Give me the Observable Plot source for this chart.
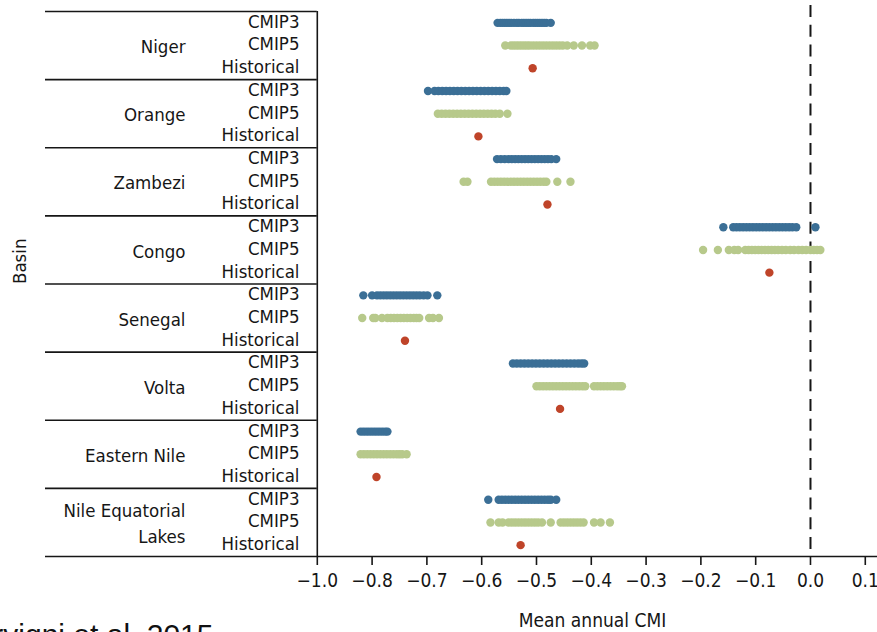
<!DOCTYPE html>
<html>
<head>
<meta charset="utf-8">
<script src="https://cdn.jsdelivr.net/npm/d3@7"></script>
<script src="https://cdn.jsdelivr.net/npm/@observablehq/plot@0.6"></script>
<style>
  html, body { margin: 0; padding: 0; overflow: hidden; background: #fff; width: 877px; height: 632px; }
  #chart { position: absolute; left: 0; top: 0; }
  #source { position: absolute; left: -45px; top: 620px; font-family: "Liberation Sans", Arial, sans-serif; font-size: 30px; line-height: 30px; color: #111; white-space: nowrap; }
</style>
</head>
<body>
<div id="chart"></div>
<div id="source">Cervigni et al. 2015</div>
<script>
// ---- categories ----
const basins = ["Niger", "Orange", "Zambezi", "Congo", "Senegal", "Volta", "Eastern Nile", "Nile Equatorial Lakes"];
const models = ["CMIP3", "CMIP5", "Historical"];

// ---- tick values & labels (as printed on the original axis) ----
const tickValues = [-0.9, -0.8, -0.7, -0.6, -0.5, -0.4, -0.3, -0.2, -0.1, 0.0, 0.1];
const tickLabels = ["−1.0", "−0.8", "−0.7", "−0.6", "−0.5", "−0.4", "−0.3", "−0.2", "−0.1", "0.0", "0.1"];

// ---- series: mean annual CMI per model run ----
const nigerCMIP3 = [-0.571,-0.566,-0.562,-0.558,-0.554,-0.550,-0.546,-0.541,-0.536,-0.532,-0.527,-0.523,-0.519,-0.515,-0.511,-0.506,-0.502,-0.498,-0.494,-0.490,-0.486,-0.482,-0.474];
const nigerCMIP5 = [-0.557,-0.547,-0.542,-0.537,-0.532,-0.527,-0.522,-0.517,-0.512,-0.506,-0.500,-0.494,-0.488,-0.482,-0.476,-0.470,-0.464,-0.458,-0.452,-0.444,-0.432,-0.417,-0.402,-0.394];
const orangeCMIP3 = [-0.698,-0.686,-0.679,-0.672,-0.665,-0.658,-0.651,-0.644,-0.637,-0.630,-0.623,-0.616,-0.609,-0.602,-0.595,-0.588,-0.581,-0.574,-0.567,-0.560,-0.555];
const orangeCMIP5 = [-0.680,-0.673,-0.666,-0.659,-0.652,-0.645,-0.638,-0.631,-0.624,-0.617,-0.610,-0.603,-0.596,-0.589,-0.582,-0.575,-0.567,-0.553];
const zambeziCMIP3 = [-0.572,-0.565,-0.558,-0.551,-0.545,-0.539,-0.533,-0.527,-0.521,-0.515,-0.509,-0.503,-0.497,-0.491,-0.485,-0.479,-0.473,-0.464];
const zambeziCMIP5 = [-0.633,-0.626,-0.583,-0.577,-0.571,-0.565,-0.559,-0.553,-0.547,-0.541,-0.535,-0.529,-0.523,-0.517,-0.511,-0.505,-0.499,-0.493,-0.487,-0.482,-0.462,-0.438];
const congoCMIP3 = [-0.159,-0.141,-0.135,-0.129,-0.123,-0.117,-0.111,-0.105,-0.099,-0.093,-0.087,-0.081,-0.075,-0.069,-0.063,-0.057,-0.051,-0.045,-0.039,-0.033,-0.026,0.009];
const congoCMIP5 = [-0.196,-0.169,-0.149,-0.139,-0.132,-0.119,-0.113,-0.107,-0.101,-0.095,-0.089,-0.083,-0.077,-0.071,-0.065,-0.059,-0.052,-0.045,-0.037,-0.030,-0.022,-0.015,-0.008,0.000,0.006,0.012,0.018];
const senegalCMIP3 = [-0.816,-0.800,-0.791,-0.785,-0.779,-0.773,-0.767,-0.761,-0.755,-0.749,-0.743,-0.737,-0.731,-0.725,-0.719,-0.713,-0.706,-0.699,-0.681];
const senegalCMIP5 = [-0.818,-0.798,-0.794,-0.782,-0.772,-0.766,-0.760,-0.754,-0.748,-0.742,-0.736,-0.730,-0.724,-0.719,-0.714,-0.696,-0.689,-0.678];
const voltaCMIP3 = [-0.543,-0.536,-0.529,-0.522,-0.515,-0.508,-0.501,-0.494,-0.487,-0.480,-0.473,-0.466,-0.459,-0.452,-0.445,-0.438,-0.431,-0.424,-0.418,-0.413];
const voltaCMIP5 = [-0.500,-0.494,-0.488,-0.482,-0.476,-0.470,-0.464,-0.458,-0.452,-0.446,-0.440,-0.434,-0.428,-0.422,-0.416,-0.411,-0.395,-0.389,-0.383,-0.377,-0.371,-0.365,-0.359,-0.353,-0.348,-0.344];
const easternNileCMIP3 = [-0.821,-0.816,-0.811,-0.806,-0.801,-0.796,-0.791,-0.786,-0.781,-0.776,-0.772];
const easternNileCMIP5 = [-0.821,-0.815,-0.809,-0.803,-0.797,-0.791,-0.785,-0.779,-0.773,-0.767,-0.761,-0.755,-0.750,-0.745,-0.737];
const nileEqCMIP3 = [-0.588,-0.569,-0.563,-0.557,-0.551,-0.545,-0.539,-0.533,-0.527,-0.521,-0.515,-0.509,-0.503,-0.497,-0.491,-0.485,-0.479,-0.474,-0.464];
const nileEqCMIP5 = [-0.584,-0.569,-0.562,-0.551,-0.545,-0.539,-0.533,-0.527,-0.521,-0.515,-0.509,-0.503,-0.497,-0.490,-0.474,-0.456,-0.450,-0.444,-0.438,-0.432,-0.426,-0.420,-0.414,-0.395,-0.383,-0.366];
const historical = [-0.507, -0.606, -0.480, -0.075, -0.740, -0.457, -0.792, -0.529];

const cmip3 = [nigerCMIP3, orangeCMIP3, zambeziCMIP3, congoCMIP3, senegalCMIP3, voltaCMIP3, easternNileCMIP3, nileEqCMIP3];
const cmip5 = [nigerCMIP5, orangeCMIP5, zambeziCMIP5, congoCMIP5, senegalCMIP5, voltaCMIP5, easternNileCMIP5, nileEqCMIP5];

const colors = {CMIP3: "#3b6f96", CMIP5: "#b7c98b", Historical: "#bf4429"};

// ---- build table ----
const key = (b, m) => b + "|" + m;
const rowKeys = basins.flatMap(b => models.map(m => key(b, m)));
const points = [];
basins.forEach((b, i) => {
  cmip3[i].forEach(v => points.push({basin: b, model: "CMIP3", value: v}));
  cmip5[i].forEach(v => points.push({basin: b, model: "CMIP5", value: v}));
  points.push({basin: b, model: "Historical", value: historical[i]});
});

const W = 877, H = 632;
const mTop = 11, mBottom = 76, mLeft = 45;
const band = (H - mTop - mBottom) / rowKeys.length;
const xMin = -1.396, xMax = 0.1223;
const divider = tickValues[0];
const ink = "#161616";
const font = "'DejaVu Sans Condensed', 'DejaVu Sans', sans-serif";
const fs = 18.5;
const basinLabel = b => b === "Nile Equatorial Lakes" ? "Nile Equatorial\nLakes" : b;

const chart = Plot.plot({
  width: W,
  height: H,
  marginTop: mTop,
  marginBottom: mBottom,
  marginLeft: mLeft,
  marginRight: 0,
  style: {fontFamily: font, fontStretch: "condensed", fontSize: fs + "px", color: ink, background: "white"},
  x: {domain: [xMin, xMax], axis: null},
  y: {type: "band", domain: rowKeys, padding: 0, round: false, axis: null},
  marks: [
    // separators in label area
    Plot.ruleY(basins, {y: b => key(b, "CMIP3"), x1: xMin, x2: divider, dy: -band / 2, stroke: ink, strokeWidth: 1.6}),
    // bottom axis line, full width
    Plot.ruleY([basins[basins.length - 1]], {y: b => key(b, "Historical"), dy: band / 2, stroke: ink, strokeWidth: 1.6}),
    // vertical divider
    Plot.ruleX([divider], {stroke: ink, strokeWidth: 1.6}),
    // zero dashed line
    Plot.ruleX([0], {stroke: ink, strokeWidth: 2, strokeDasharray: "12,7.7", insetTop: -6}),
    // dots
    Plot.dot(points, {x: "value", y: d => key(d.basin, d.model), r: 4.2, fill: d => colors[d.model], stroke: "none"}),
    // row labels (model)
    Plot.axisY(rowKeys, {anchor: "left", tickSize: 0, tickPadding: 0, dx: 254, dy: -1, tickFormat: k => k.split("|")[1], fontSize: fs, fill: ink, label: null}),
    // basin labels
    Plot.text(basins, {y: b => key(b, "CMIP5"), text: basinLabel, frameAnchor: "left", dx: 140, dy: -1, textAnchor: "end", lineHeight: 1.45, fontSize: fs, fill: ink}),
    // x axis
    Plot.axisX(tickValues, {anchor: "bottom", tickSize: 9, tickPadding: 8, strokeWidth: 1.6, stroke: ink, fill: ink, fontSize: 19, tickFormat: d => tickLabels[tickValues.indexOf(d)], label: null}),
    // axis titles
    Plot.text(["Mean annual CMI"], {frameAnchor: "bottom", dx: 131, dy: 64, lineAnchor: "middle", fontSize: 19, fill: ink}),
    Plot.text(["Basin"], {frameAnchor: "left", dx: -25, rotate: -90, fontSize: fs, fill: ink})
  ]
});
document.getElementById("chart").appendChild(chart);
</script>
</body>
</html>
